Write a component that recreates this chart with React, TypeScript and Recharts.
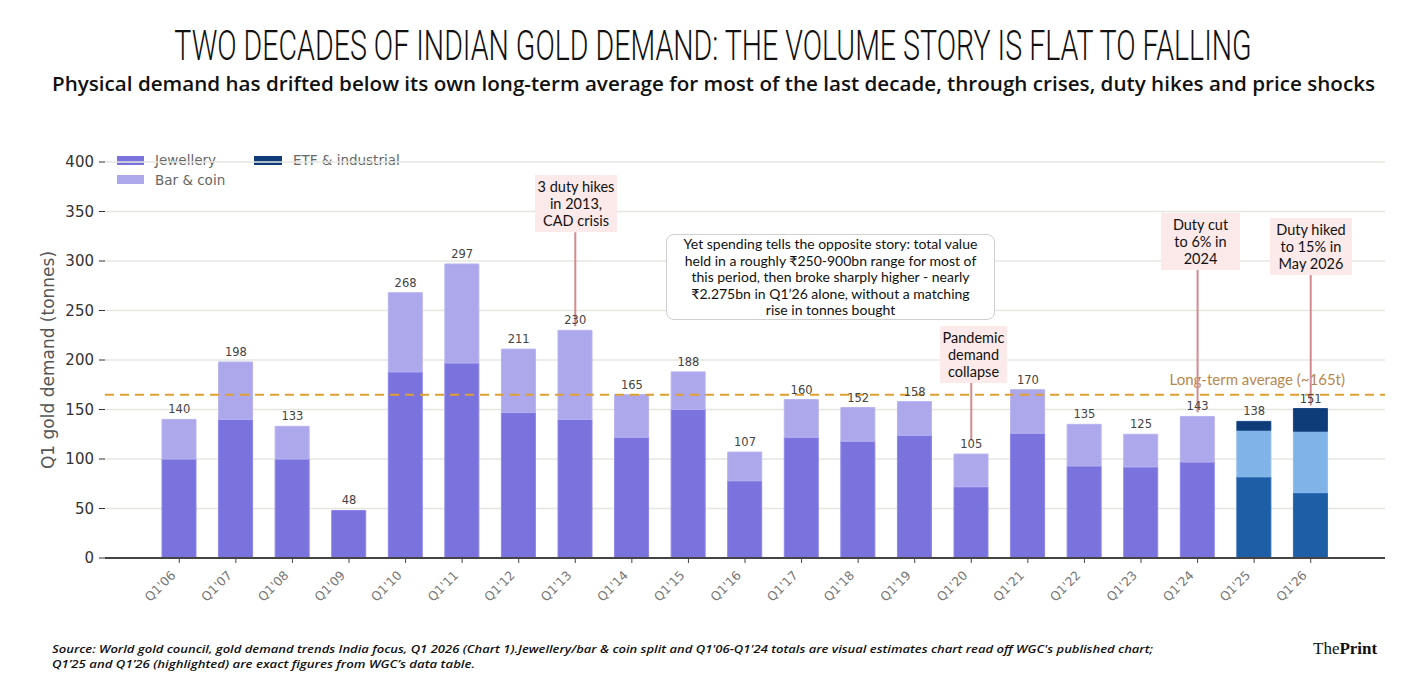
import {
  Bar,
  CartesianGrid,
  Cell,
  ComposedChart,
  LabelList,
  Line,
  ReferenceLine,
  XAxis,
  YAxis,
} from 'recharts'

// Q1 Indian gold demand, tonnes
const quarters = [
  "Q1'06", "Q1'07", "Q1'08", "Q1'09", "Q1'10", "Q1'11", "Q1'12", "Q1'13", "Q1'14", "Q1'15", "Q1'16",
  "Q1'17", "Q1'18", "Q1'19", "Q1'20", "Q1'21", "Q1'22", "Q1'23", "Q1'24", "Q1'25", "Q1'26",
]
const jewellery = [100, 140, 100, 48, 188, 197, 147, 140, 122, 150, 78, 122, 118, 124, 72, 126, 93, 92, 97, 82, 66]
const barCoin = [40, 58, 33, 0, 80, 100, 64, 90, 43, 38, 29, 38, 34, 34, 33, 44, 42, 33, 46, 47, 62]
const etfIndustrial = [0, 0, 0, 0, 0, 0, 0, 0, 0, 0, 0, 0, 0, 0, 0, 0, 0, 0, 0, 9, 23]
const totals = [140, 198, 133, 48, 268, 297, 211, 230, 165, 188, 107, 160, 152, 158, 105, 170, 135, 125, 143, 138, 151]
const highlighted = ["Q1'25", "Q1'26"]
const yTicks = [0, 50, 100, 150, 200, 250, 300, 350, 400]
const longTermAverage = 165

// annotation connectors: category, from (box bottom) -> to (bar top), in tonnes
const connectors = [
  { quarter: "Q1'13", from: 329, to: 234 },
  { quarter: "Q1'20", from: 182, to: 119 },
  { quarter: "Q1'24", from: 293, to: 147 },
  { quarter: "Q1'26", from: 288, to: 154 },
]

const chartData = quarters.map((q, i) => ({
  quarter: q,
  jewellery: jewellery[i],
  barCoin: barCoin[i],
  etf: etfIndustrial[i],
  total: totals[i],
}))

const COLORS = {
  jewellery: '#7b73dd',
  barCoin: '#ada8ec',
  jewelleryHi: '#1d5ea6',
  barCoinHi: '#80b3e8',
  etf: '#0e3c78',
}

const mplFont = '"DejaVu Sans", sans-serif'
const textFont = 'Lato, "Noto Sans", sans-serif'

function QuarterTick({ x, y, payload }: any) {
  return (
    <g transform={`translate(${x - 3},${y + 11}) rotate(-45)`}>
      <text x={0} y={0} textAnchor="end" fill="#777" fontSize={12.5} fontFamily={mplFont}>
        {payload.value}
      </text>
    </g>
  )
}

function Note({ left, top, width, children }: any) {
  return (
    <div
      style={{
        position: 'absolute',
        left,
        top,
        width,
        background: '#fce9e9',
        textAlign: 'center',
        fontFamily: textFont,
        fontSize: 14.5,
        lineHeight: '17px',
        color: '#111',
        padding: '3px 0',
      }}
    >
      {children}
    </div>
  )
}

export default function App() {
  return (
    <div style={{ position: 'relative', width: 1425, height: 697, margin: -8, background: '#fff', overflow: 'hidden' }}>
      <svg width={1425} height={697} style={{ position: 'absolute', left: 0, top: 0 }}>
        <g transform="translate(713,60) scale(0.7,1)">
          <text
            x={0}
            y={0}
            textAnchor="middle"
            textLength={1539}
            lengthAdjust="spacingAndGlyphs"
            fontFamily="Roboto, sans-serif"
            fontWeight={300}
            fontSize={42}
            fill="#111"
          >
            TWO DECADES OF INDIAN GOLD DEMAND: THE VOLUME STORY IS FLAT TO FALLING
          </text>
        </g>
        <text
          x={52}
          y={91}
          textLength={1323}
          lengthAdjust="spacingAndGlyphs"
          fontFamily={'"Open Sans", sans-serif'}
          fontWeight={600}
          fontSize={19}
          fill="#111"
        >
          Physical demand has drifted below its own long-term average for most of the last decade, through crises, duty hikes and price shocks
        </text>
        <text
          x={0}
          y={0}
          transform="translate(54,360) rotate(-90)"
          textAnchor="middle"
          fontFamily={mplFont}
          fontSize={17}
          fill="#555"
        >
          Q1 gold demand (tonnes)
        </text>
        {/* legend */}
        <rect x={117} y={156} width={27} height={9} fill={COLORS.jewellery} />
        <text x={155} y={165} fontFamily={mplFont} fontSize={13.5} fill="#666">Jewellery</text>
        <rect x={117} y={175} width={27} height={9} fill={COLORS.barCoin} />
        <text x={155} y={185} fontFamily={mplFont} fontSize={13.5} fill="#666">Bar &amp; coin</text>
        <rect x={254} y={156} width={28} height={9} fill={COLORS.etf} />
        <text x={293} y={165} fontFamily={mplFont} fontSize={13.5} fill="#666">ETF &amp; industrial</text>
        {/* footer */}
        <text
          x={52}
          y={653}
          textLength={1101}
          lengthAdjust="spacingAndGlyphs"
          fontFamily={'"Open Sans", sans-serif'}
          fontStyle="italic"
          fontWeight={600}
          fontSize={11}
          fill="#111"
        >
          Source: World gold council, gold demand trends India focus, Q1 2026 (Chart 1).Jewellery/bar &amp; coin split and Q1'06-Q1'24 totals are visual estimates chart read off WGC's published chart;
        </text>
        <text
          x={52}
          y={668}
          textLength={423}
          lengthAdjust="spacingAndGlyphs"
          fontFamily={'"Open Sans", sans-serif'}
          fontStyle="italic"
          fontWeight={600}
          fontSize={11}
          fill="#111"
        >
          Q1’25 and Q1’26 (highlighted) are exact figures from WGC’s data table.
        </text>
        <text x={1313} y={654} fontFamily={'"Liberation Serif", serif'} fontSize={17} fill="#111">
          The<tspan fontWeight={700}>Print</tspan>
        </text>
      </svg>

      <div style={{ position: 'absolute', left: 0, top: 0 }}>
        <ComposedChart
          width={1425}
          height={697}
          data={chartData}
          margin={{ top: 162, right: 40, bottom: 79, left: 60 }}
          barCategoryGap={0}
        >
          <CartesianGrid vertical={false} stroke="#e6e6e0" strokeWidth={1.5} />
          <XAxis
            dataKey="quarter"
            height={60}
            padding={{ left: 46, right: 46 }}
            tick={<QuarterTick />}
            tickSize={5}
            stroke="#444"
            axisLine={{ stroke: '#444', strokeWidth: 2 }}
            interval={0}
          />
          <YAxis
            width={45}
            domain={[0, 400]}
            ticks={yTicks}
            axisLine={false}
            tickSize={6}
            tickMargin={5}
            tickLine={{ stroke: '#333' }}
            tick={{ fill: '#333', fontSize: 15, fontFamily: mplFont }}
          />
          <Bar dataKey="jewellery" stackId="q" barSize={34} isAnimationActive={false}>
            {chartData.map((d) => (
              <Cell
                key={d.quarter}
                fill={highlighted.includes(d.quarter) ? COLORS.jewelleryHi : COLORS.jewellery}
                stroke={highlighted.includes(d.quarter) ? '#2a6cb4' : '#8c85ea'}
                strokeWidth={1}
              />
            ))}
          </Bar>
          <Bar dataKey="barCoin" stackId="q" barSize={34} isAnimationActive={false}>
            {chartData.map((d) => (
              <Cell
                key={d.quarter}
                fill={highlighted.includes(d.quarter) ? COLORS.barCoinHi : COLORS.barCoin}
                stroke={highlighted.includes(d.quarter) ? '#8dbbec' : '#b8b3f0'}
                strokeWidth={1}
              />
            ))}
          </Bar>
          <Bar dataKey="etf" stackId="q" barSize={34} fill={COLORS.etf} stroke="#1a4a88" strokeWidth={1} isAnimationActive={false} />
          <Line
            dataKey="total"
            stroke="none"
            dot={false}
            activeDot={false}
            isAnimationActive={false}
          >
            <LabelList
              dataKey="total"
              position="top"
              offset={6}
              fill="#444"
              fontSize={11.5}
              fontFamily={mplFont}
            />
          </Line>
          <ReferenceLine
            y={longTermAverage}
            stroke="#e0a030"
            strokeWidth={2}
            strokeDasharray="9 6"
            label={({ viewBox }: any) => (
              <text
                x={viewBox.x + viewBox.width - 40}
                y={viewBox.y - 10}
                textAnchor="end"
                fill="#b5884e"
                fontSize={15}
                fontFamily={textFont}
              >
                Long-term average (~165t)
              </text>
            )}
          />
          {connectors.map((c) => (
            <ReferenceLine
              key={c.quarter}
              segment={[
                { x: c.quarter, y: c.from },
                { x: c.quarter, y: c.to },
              ]}
              stroke="#d48a8e"
              strokeWidth={2}
            />
          ))}
        </ComposedChart>
      </div>

      <Note left={535} top={175} width={82}>3 duty hikes<br />in 2013,<br />CAD crisis</Note>
      <Note left={940} top={326} width={67}>Pandemic<br />demand<br />collapse</Note>
      <Note left={1161} top={213} width={79}>Duty cut<br />to 6% in<br />2024</Note>
      <Note left={1270} top={218} width={82}>Duty hiked<br />to 15% in<br />May 2026</Note>

      <div
        style={{
          position: 'absolute',
          left: 666,
          top: 234,
          width: 329,
          height: 86,
          boxSizing: 'border-box',
          border: '1.5px solid #cfcfcf',
          borderRadius: 8,
          background: '#fff',
          textAlign: 'center',
          fontFamily: textFont,
          fontSize: 14,
          lineHeight: '16.6px',
          color: '#111',
          paddingTop: 1,
        }}
      >
        Yet spending tells the opposite story: total value
        <br />held in a roughly ₹250-900bn range for most of
        <br />this period, then broke sharply higher - nearly
        <br />₹2.275bn in Q1’26 alone, without a matching
        <br />rise in tonnes bought
      </div>
    </div>
  )
}
